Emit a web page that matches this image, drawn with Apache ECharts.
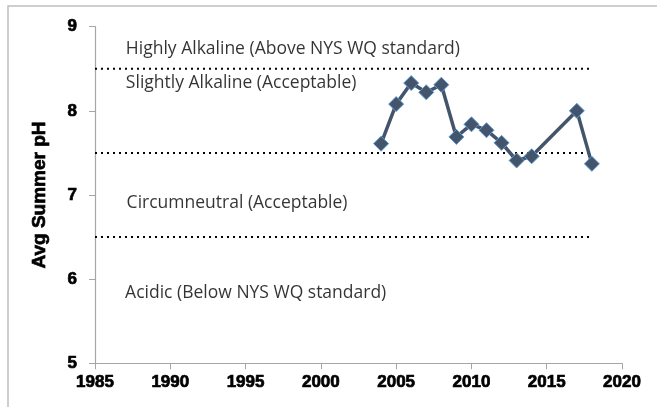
<!DOCTYPE html>
<html>
<head>
<meta charset="utf-8">
<script src="https://cdn.jsdelivr.net/npm/echarts@6/dist/echarts.min.js"></script>
<style>
html,body{margin:0;padding:0;background:#fff;}
#chart{width:657px;height:407px;}
</style>
</head>
<body>
<div id="chart"></div>
<script>
var years = [2004, 2005, 2006, 2007, 2008, 2009, 2010, 2011, 2012, 2013, 2014, 2017, 2018];
var phValues = [7.61, 8.08, 8.33, 8.22, 8.31, 7.69, 7.84, 7.77, 7.62, 7.41, 7.46, 8.00, 7.37];
var thresholdLevels = [8.5, 7.5, 6.5];
var thresholdRange = [1985, 2018];
var zoneLabels = ["Highly Alkaline (Above NYS WQ standard)", "Slightly Alkaline (Acceptable)", "Circumneutral (Acceptable)", "Acidic (Below NYS WQ standard)"];
var zoneLabelX = [1987.05, 1987.05, 1987.1, 1987.0];
var zoneLabelY = [8.73, 8.33, 6.90, 5.83];
var xTicks = [1985, 2020, 5];
var yTicks = [5, 9, 1];

var chart = echarts.init(document.getElementById('chart'), null, {renderer: 'canvas'});
var font = '"Open Sans", sans-serif';
var boldFont = '"Liberation Sans", Arial, sans-serif';

var series = [];
thresholdLevels.forEach(function (lvl) {
  series.push({
    type: 'line',
    data: [[thresholdRange[0], lvl], [thresholdRange[1], lvl]],
    symbol: 'none',
    silent: true,
    lineStyle: {color: '#000', width: 2, type: [2, 4]},
    z: 1
  });
});
series.push({
  type: 'scatter',
  data: zoneLabels.map(function (t, i) { return {value: [zoneLabelX[i], zoneLabelY[i]], name: t}; }),
  symbolSize: 0,
  silent: true,
  label: {
    show: true,
    position: 'right',
    distance: 0,
    formatter: function (p) { return p.name; },
    color: '#000',
    fontFamily: font,
    fontSize: 17.5
  }
});
series.push({
  type: 'line',
  data: years.map(function (y, i) { return [y, phValues[i]]; }),
  symbol: 'diamond',
  symbolSize: 15,
  lineStyle: {color: '#44546a', width: 3.5},
  itemStyle: {color: '#44546a', borderColor: '#5b9bd5', borderWidth: 1},
  z: 5
});

var boldLabel = {color: '#000', fontFamily: boldFont, fontWeight: 'bold', fontSize: 17,
  textBorderColor: '#000', textBorderWidth: 0.7};

chart.setOption({
  animation: false,
  backgroundColor: '#fff',
  grid: {left: 95, right: 35, top: 26.7, bottom: 43.7, containLabel: false},
  graphic: [{
    type: 'rect',
    shape: {x: 8, y: 6, width: 700, height: 500},
    style: {fill: 'none', stroke: '#bfbfbf', lineWidth: 1.5},
    silent: true
  }],
  xAxis: {
    type: 'value',
    min: xTicks[0], max: xTicks[1], interval: xTicks[2],
    splitLine: {show: false},
    axisLine: {show: true, lineStyle: {color: '#a6a6a6', width: 1.2}},
    axisTick: {show: true, inside: false, length: 6, lineStyle: {color: '#a6a6a6'}},
    axisLabel: Object.assign({margin: 11, formatter: function (v) { return String(v); }}, boldLabel)
  },
  yAxis: {
    type: 'value',
    min: yTicks[0], max: yTicks[1], interval: yTicks[2],
    name: 'Avg Summer pH',
    nameLocation: 'middle',
    nameRotate: 90,
    nameGap: 46,
    nameTextStyle: Object.assign({}, boldLabel, {fontSize: 19}),
    splitLine: {show: false},
    axisLine: {show: true, lineStyle: {color: '#a6a6a6', width: 1.2}},
    axisTick: {show: true, inside: false, length: 6, lineStyle: {color: '#a6a6a6'}},
    axisLabel: Object.assign({margin: 18}, boldLabel)
  },
  series: series
});
</script>
</body>
</html>
